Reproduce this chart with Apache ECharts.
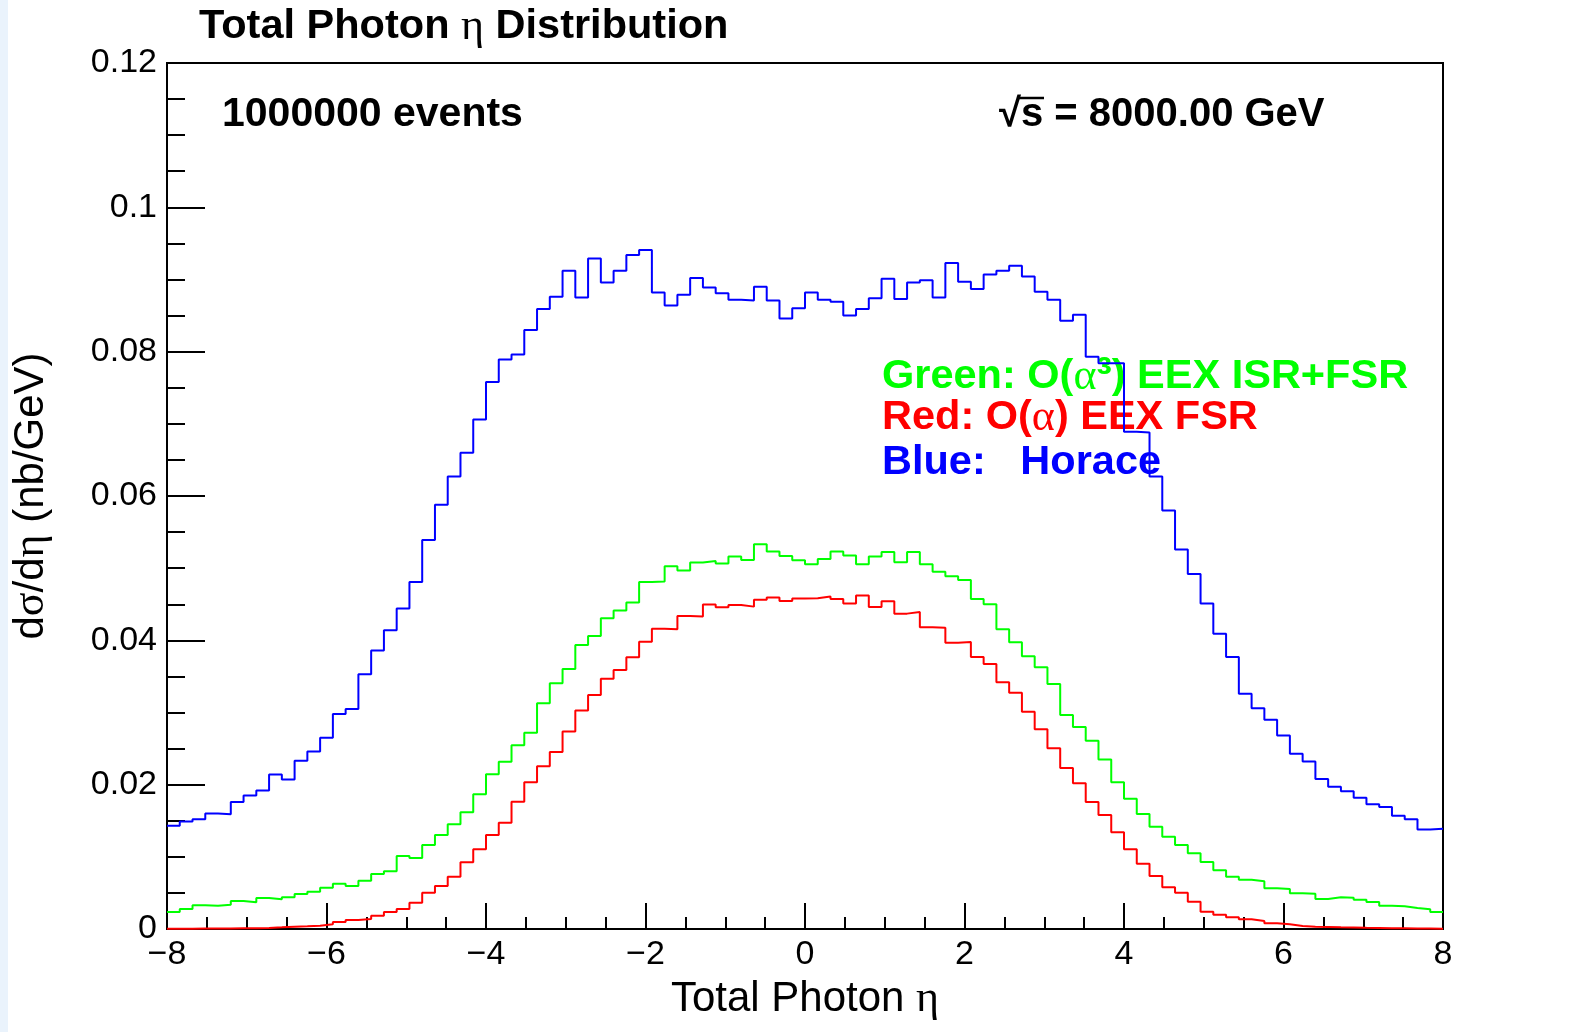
<!DOCTYPE html>
<html>
<head>
<meta charset="utf-8">
<script src="https://cdn.jsdelivr.net/npm/echarts@6/dist/echarts.min.js"></script>
<style>
html,body{margin:0;padding:0;background:#fff;}
#chart{width:1585px;height:1032px;}
</style>
</head>
<body>
<div id="chart"></div>
<script>
// Histogram binning: 100 bins from -8 to 8
const binLow = -8;
const binWidth = 0.16;
const nBins = 100;

// Values in units of 1e-3 nb/GeV
const blueHorace = [
  14.3, 14.9, 15.2, 16.0, 15.9, 17.6, 18.5, 19.2, 21.4, 20.7,
  23.3, 24.6, 26.5, 29.8, 30.5, 35.3, 38.6, 41.4, 44.4, 48.1,
  53.9, 58.8, 62.7, 66.0, 70.6, 75.8, 78.9, 79.6, 83.0, 85.9,
  87.6, 91.2, 87.5, 92.9, 89.6, 91.2, 93.4, 94.1, 88.2, 86.4,
  87.9, 90.2, 88.9, 88.1, 87.2, 87.1, 89.0, 87.1, 84.6, 86.0,
  88.2, 87.2, 86.9, 85.0, 85.9, 87.4, 90.1, 87.3, 89.6, 89.9,
  87.5, 92.3, 89.7, 88.7, 90.7, 91.2, 91.9, 90.4, 88.3, 87.2,
  84.3, 85.1, 79.3, 78.4, 78.4, 68.9, 68.8, 62.7, 58.0, 52.6,
  49.2, 45.1, 40.9, 37.7, 32.6, 30.6, 29.0, 26.8, 24.3, 23.2,
  20.8, 19.7, 19.1, 18.2, 17.3, 16.9, 15.7, 15.2, 13.8, 13.9
];
const greenEEX3 = [
  2.36, 2.77, 3.28, 3.23, 3.37, 3.88, 3.70, 4.30, 4.11, 4.39,
  4.85, 5.17, 5.73, 6.28, 5.96, 6.70, 7.62, 8.00, 10.12, 9.84,
  11.64, 13.03, 14.51, 16.17, 18.67, 21.44, 23.19, 25.46, 27.21, 31.27,
  34.05, 36.04, 39.36, 40.61, 43.06, 44.12, 45.23, 48.09, 48.14, 50.27,
  49.66, 50.77, 51.00, 50.63, 51.60, 51.14, 53.32, 52.30, 51.70, 51.10,
  50.55, 51.28, 52.30, 51.74, 50.55, 51.60, 52.25, 50.82, 52.25, 50.55,
  49.52, 48.88, 48.37, 45.74, 45.00, 41.54, 39.74, 37.80, 36.27, 33.96,
  29.66, 28.00, 26.10, 23.47, 20.33, 18.06, 15.94, 14.18, 12.79, 11.64,
  10.49, 9.29, 8.13, 7.25, 6.83, 6.61, 5.64, 5.54, 4.94, 4.90,
  4.16, 4.39, 4.34, 4.06, 3.74, 3.23, 3.14, 2.91, 2.73, 2.36
];
const redEEX1 = [
  0.05, 0.05, 0.06, 0.07, 0.08, 0.10, 0.12, 0.15, 0.23, 0.32,
  0.37, 0.46, 0.65, 0.97, 1.25, 1.39, 1.85, 2.36, 2.77, 3.65,
  5.03, 5.96, 7.25, 9.24, 11.05, 13.03, 14.73, 17.64, 20.33, 22.55,
  24.53, 27.35, 30.26, 32.43, 34.69, 35.90, 37.66, 39.82, 41.62, 41.54,
  43.38, 43.29, 44.95, 44.59, 44.91, 44.67, 45.64, 45.92, 45.46, 45.78,
  45.83, 46.06, 45.74, 45.09, 46.20, 44.63, 45.42, 43.70, 43.94, 41.82,
  41.76, 39.68, 39.78, 37.70, 36.73, 34.19, 32.75, 30.12, 27.68, 25.05,
  22.31, 20.19, 17.60, 15.80, 13.40, 11.05, 9.05, 7.35, 5.78, 5.03,
  3.79, 2.40, 1.98, 1.62, 1.34, 1.11, 0.79, 0.65, 0.42, 0.32,
  0.28, 0.23, 0.20, 0.16, 0.13, 0.10, 0.09, 0.07, 0.06, 0.05
];
const valueScale = 0.001;

const xTicks = [-8, -6, -4, -2, 0, 2, 4, 6, 8];
const yTicks = [0, 0.02, 0.04, 0.06, 0.08, 0.1, 0.12];

function histData(vals) {
  const d = [];
  for (let i = 0; i < nBins; i++) {
    d.push([binLow + binWidth * i, vals[i] * valueScale]);
  }
  d.push([binLow + binWidth * nBins, vals[nBins - 1] * valueScale]);
  return d;
}

const SANS = 'Liberation Sans, Arial, Helvetica, sans-serif';
const GREEK = 'Liberation Serif, Times New Roman, serif';

const chart = echarts.init(document.getElementById('chart'), null, {renderer: 'canvas'});

const option = {
  animation: false,
  backgroundColor: '#ffffff',
  grid: {
    left: 167, right: 142, top: 63, bottom: 103,
    show: true, borderColor: '#000', borderWidth: 2, backgroundColor: 'transparent'
  },
  xAxis: {
    type: 'value',
    min: xTicks[0], max: xTicks[xTicks.length - 1], interval: 2,
    axisLine: {show: true, onZero: false, lineStyle: {color: '#000', width: 2}},
    axisTick: {show: true, inside: true, length: 26, lineStyle: {color: '#000', width: 2}},
    minorTick: {show: true, splitNumber: 4, length: 12, lineStyle: {color: '#000', width: 2}},
    splitLine: {show: false},
    axisLabel: {
      show: true, margin: 9, color: '#000', fontFamily: SANS, fontSize: 34,
      formatter: v => (v < 0 ? '\u2212' + (-v) : String(v))
    },
    name: 'Total Photon {g|η}',
    nameLocation: 'middle',
    nameGap: 48,
    nameTextStyle: {
      color: '#000', fontFamily: SANS, fontSize: 42,
      rich: {g: {fontFamily: GREEK, fontSize: 44, color: '#000'}}
    }
  },
  yAxis: {
    type: 'value',
    min: yTicks[0], max: yTicks[yTicks.length - 1], interval: 0.02,
    axisLine: {show: true, onZero: false, lineStyle: {color: '#000', width: 2}},
    axisTick: {show: true, inside: true, length: 38, lineStyle: {color: '#000', width: 2}},
    minorTick: {show: true, splitNumber: 4, length: 18, lineStyle: {color: '#000', width: 2}},
    splitLine: {show: false},
    axisLabel: {
      show: true, margin: 10, color: '#000', fontFamily: SANS, fontSize: 34,
      formatter: v => (v === 0 ? '0' : String(+v.toFixed(2)))
    },
    name: 'd{g|σ}/d{g|η} (nb/GeV)',
    nameLocation: 'middle',
    nameRotate: 90,
    nameGap: 114,
    nameTextStyle: {
      color: '#000', fontFamily: SANS, fontSize: 42,
      rich: {g: {fontFamily: GREEK, fontSize: 44, color: '#000'}}
    }
  },
  graphic: [
    {type: 'rect', z: 0, shape: {x: 0, y: 0, width: 8, height: 1032}, style: {fill: '#eaf3fc'}},
    {
      type: 'text', z: 1, x: 199, y: 27,
      style: {
        text: '{b|Total Photon }{g|η}{b| Distribution}',
        verticalAlign: 'middle',
        rich: {
          b: {fontFamily: SANS, fontWeight: 'bold', fontSize: 41.5, fill: '#000'},
          g: {fontFamily: GREEK, fontSize: 44, fill: '#000'}
        }
      }
    },
    {
      type: 'text', z: 1, x: 222, y: 115,
      style: {text: '1000000 events', fontFamily: SANS, fontWeight: 'bold', fontSize: 41, fill: '#000', verticalAlign: 'middle'}
    },
    {
      type: 'text', z: 1, x: 999, y: 115,
      style: {text: '√s = 8000.00 GeV', fontFamily: SANS, fontWeight: 'bold', fontSize: 40, fill: '#000', verticalAlign: 'middle'}
    },
    {
      type: 'line', z: 1,
      shape: {x1: 1019, y1: 98, x2: 1044, y2: 98},
      style: {stroke: '#000', lineWidth: 2.5}
    },
    {
      type: 'text', z: 1, x: 882, y: 377,
      style: {
        text: '{b|Green: O(}{g|α}{s|³}{b|) EEX ISR+FSR}',
        verticalAlign: 'middle',
        rich: {
          b: {fontFamily: SANS, fontWeight: 'bold', fontSize: 41.5, fill: '#00ff00'},
          g: {fontFamily: GREEK, fontSize: 44, fill: '#00ff00'},
          s: {fontFamily: SANS, fontWeight: 'bold', fontSize: 46, fill: '#00ff00'}
        }
      }
    },
    {
      type: 'text', z: 1, x: 882, y: 418,
      style: {
        text: '{b|Red: O(}{g|α}{b|) EEX FSR}',
        verticalAlign: 'middle',
        rich: {
          b: {fontFamily: SANS, fontWeight: 'bold', fontSize: 41.5, fill: '#ff0000'},
          g: {fontFamily: GREEK, fontSize: 44, fill: '#ff0000'}
        }
      }
    },
    {
      type: 'text', z: 1, x: 882, y: 463,
      style: {text: 'Blue:   Horace', fontFamily: SANS, fontWeight: 'bold', fontSize: 41.5, fill: '#0000ff', verticalAlign: 'middle'}
    }
  ],
  series: [
    {
      name: 'Blue: Horace', type: 'line', step: 'end', showSymbol: false, z: 5,
      data: histData(blueHorace),
      lineStyle: {color: '#0000ff', width: 2}, itemStyle: {color: '#0000ff'}
    },
    {
      name: 'Green: O(α³) EEX ISR+FSR', type: 'line', step: 'end', showSymbol: false, z: 5,
      data: histData(greenEEX3),
      lineStyle: {color: '#00ff00', width: 2}, itemStyle: {color: '#00ff00'}
    },
    {
      name: 'Red: O(α) EEX FSR', type: 'line', step: 'end', showSymbol: false, z: 5,
      data: histData(redEEX1),
      lineStyle: {color: '#ff0000', width: 2}, itemStyle: {color: '#ff0000'}
    }
  ]
};
chart.setOption(option);
</script>
</body>
</html>
